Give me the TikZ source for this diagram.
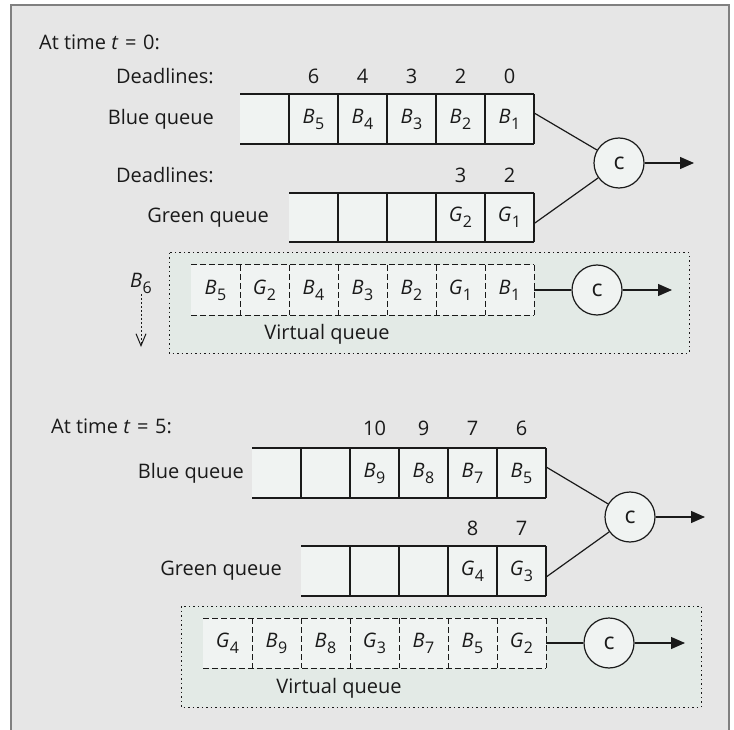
\documentclass[tikz,border=0pt]{standalone}
\usepackage{fontspec}
\setmainfont{Open Sans}
\usetikzlibrary{arrows.meta}
\definecolor{panelgrey}{HTML}{E6E6E6}
\definecolor{panelrule}{HTML}{808080}
\definecolor{cellfill}{HTML}{F0F3F2}
\definecolor{virtfill}{HTML}{E3EAE6}
\definecolor{inkblack}{HTML}{1A1A1A}
\newcommand{\pkt}[2]{\textit{#1}\kern0.5pt\raisebox{-6pt}{\fontsize{16}{18}\selectfont #2}}

\begin{document}
\begin{tikzpicture}[
  x=1pt,
  y=-1pt,
  every node/.style={font=\fontsize{20}{24}\selectfont, inkblack, inner sep=1pt},
  cell/.style={minimum width=49pt, minimum height=50pt, inner sep=0pt},
  queue/.style={inkblack, line width=1.2pt},
  vcell/.style={inkblack, line width=1pt, dash pattern=on 6pt off 3pt},
  virtual/.style={draw=inkblack, fill=virtfill, line width=1pt, dash pattern=on 1.5pt off 3pt},
  server/.style={circle, draw=inkblack, line width=1.2pt, fill=cellfill, minimum size=50pt,
    inner sep=0pt, font=\fontsize{23}{24}\selectfont},
  link/.style={inkblack, line width=1.2pt},
  outflow/.style={link, -{Triangle[length=14pt,width=12pt]}},
  dropline/.style={inkblack, line width=1pt, dash pattern=on 1.5pt off 2.5pt,
    -{Straight Barb[length=12pt,width=10pt]}}
]
  % ---- panel -----------------------------------------------------------
  \useasboundingbox (0,0) rectangle (734,730);
  \draw[panelrule, line width=2pt, fill=panelgrey] (11,5) rectangle (729,745);

  % ==== at time t = 0 ===================================================
  \node[anchor=west] (t0head) at (38,42) {At time \textit{t}\,\,=\,\,0:};
  \node[anchor=east] (t0bdl) at (215,76) {Deadlines:};
  \node[anchor=east] (t0blab) at (215,119) {Blue queue};
  \node[anchor=east] (t0gdl) at (215,175) {Deadlines:};
  \node[anchor=east] (t0glab) at (270,217.5) {Green queue};

  % ---- blue queue ------------------------------------------------------
  \fill[cellfill] (240,94) rectangle (534,144);
  \draw[queue] (240,94) -- (534,94) (240,144) -- (534,144);
  \foreach \x in {289,338,...,534} \draw[queue] (\x,94) -- (\x,144);
  \foreach \lab/\dl [count=\i] in {{\pkt B5}/6, {\pkt B4}/4, {\pkt B3}/3,
      {\pkt B2}/2, {\pkt B1}/0} {
    \node[cell] (t0b\i) at (264.5+49*\i,119) {\lab};
    \node (t0bd\i) at (264.5+49*\i,76) {\dl};
  }

  % ---- green queue -----------------------------------------------------
  \fill[cellfill] (289,193) rectangle (534,242);
  \draw[queue] (289,193) -- (534,193) (289,242) -- (534,242);
  \foreach \x in {338,387,...,534} \draw[queue] (\x,193) -- (\x,242);
  \foreach \lab/\dl [count=\i from 4] in {{\pkt G2}/3, {\pkt G1}/2} {
    \node[cell, minimum height=49pt] (t0g\i) at (264.5+49*\i,217.5) {\lab};
    \node (t0gd\i) at (264.5+49*\i,175) {\dl};
  }

  % ---- scheduler -------------------------------------------------------
  \node[server] (t0srv) at (619,163) {c};
  \coordinate (t0exit) at (694,163);
  \draw[link] ([yshift=6pt]t0b5.east) -- (t0srv);
  \draw[link] ([yshift=-6pt]t0g5.east) -- (t0srv);
  \draw[outflow] (t0srv) -- (t0exit);

  % ---- virtual queue ---------------------------------------------------
  \draw[virtual] (169,253) rectangle (689,353);
  \fill[cellfill] (191,265) rectangle (534,315);
  \draw[vcell] (191,265) -- (534,265) (191,315) -- (534,315);
  \foreach \x in {240,289,...,534} \draw[vcell] (\x,265) -- (\x,315);
  \foreach \lab [count=\i] in {{\pkt B5}, {\pkt G2}, {\pkt B4}, {\pkt B3},
      {\pkt B2}, {\pkt G1}, {\pkt B1}}
    \node[cell] (t0v\i) at (166.5+49*\i,290) {\lab};
  \node[server] (t0vsrv) at (597,290) {c};
  \coordinate (t0vexit) at (672,290);
  \draw[link] (t0v7) -- (t0vsrv);
  \draw[outflow] (t0vsrv) -- (t0vexit);
  \node (t0vlab) at (327,334) {Virtual queue};

  % ---- the next blue arrival -------------------------------------------
  \node (t0b6) at (141,283) {\pkt B6};
  \coordinate (t0drop) at (141,347);
  \draw[dropline] (t0b6) -- (t0drop);

  % ==== at time t = 5 ===================================================
  \node[anchor=west] (t5head) at (50,426) {At time \textit{t}\,\,=\,\,5:};
  \node[anchor=east] (t5blab) at (245,473) {Blue queue};
  \node[anchor=east] (t5glab) at (283,571) {Green queue};

  % ---- blue queue ------------------------------------------------------
  \fill[cellfill] (252,448) rectangle (546,498);
  \draw[queue] (252,448) -- (546,448) (252,498) -- (546,498);
  \foreach \x in {301,350,...,546} \draw[queue] (\x,448) -- (\x,498);
  \foreach \lab/\dl [count=\i from 2] in {{\pkt B9}/10, {\pkt B8}/9,
      {\pkt B7}/7, {\pkt B5}/6} {
    \node[cell] (t5b\i) at (276.5+49*\i,473) {\lab};
    \node (t5bd\i) at (276.5+49*\i,428) {\dl};
  }

  % ---- green queue -----------------------------------------------------
  \fill[cellfill] (301,546) rectangle (546,596);
  \draw[queue] (301,546) -- (546,546) (301,596) -- (546,596);
  \foreach \x in {350,399,...,546} \draw[queue] (\x,546) -- (\x,596);
  \foreach \lab/\dl [count=\i from 4] in {{\pkt G4}/8, {\pkt G3}/7} {
    \node[cell] (t5g\i) at (276.5+49*\i,571) {\lab};
    \node (t5gd\i) at (276.5+49*\i,528) {\dl};
  }

  % ---- scheduler -------------------------------------------------------
  \node[server] (t5srv) at (630,517) {c};
  \coordinate (t5exit) at (705,517);
  \draw[link] ([yshift=6pt]t5b5.east) -- (t5srv);
  \draw[link] ([yshift=-6pt]t5g5.east) -- (t5srv);
  \draw[outflow] (t5srv) -- (t5exit);

  % ---- virtual queue ---------------------------------------------------
  \draw[virtual] (181,606) rectangle (701,707);
  \fill[cellfill] (203,618) rectangle (546,668);
  \draw[vcell] (203,618) -- (546,618) (203,668) -- (546,668);
  \foreach \x in {252,301,...,546} \draw[vcell] (\x,618) -- (\x,668);
  \foreach \lab [count=\i] in {{\pkt G4}, {\pkt B9}, {\pkt B8}, {\pkt G3},
      {\pkt B7}, {\pkt B5}, {\pkt G2}}
    \node[cell] (t5v\i) at (178.5+49*\i,643) {\lab};
  \node[server] (t5vsrv) at (609,643) {c};
  \coordinate (t5vexit) at (685,643);
  \draw[link] (t5v7) -- (t5vsrv);
  \draw[outflow] (t5vsrv) -- (t5vexit);
  \node (t5vlab) at (339,688) {Virtual queue};
\end{tikzpicture}
\end{document}
